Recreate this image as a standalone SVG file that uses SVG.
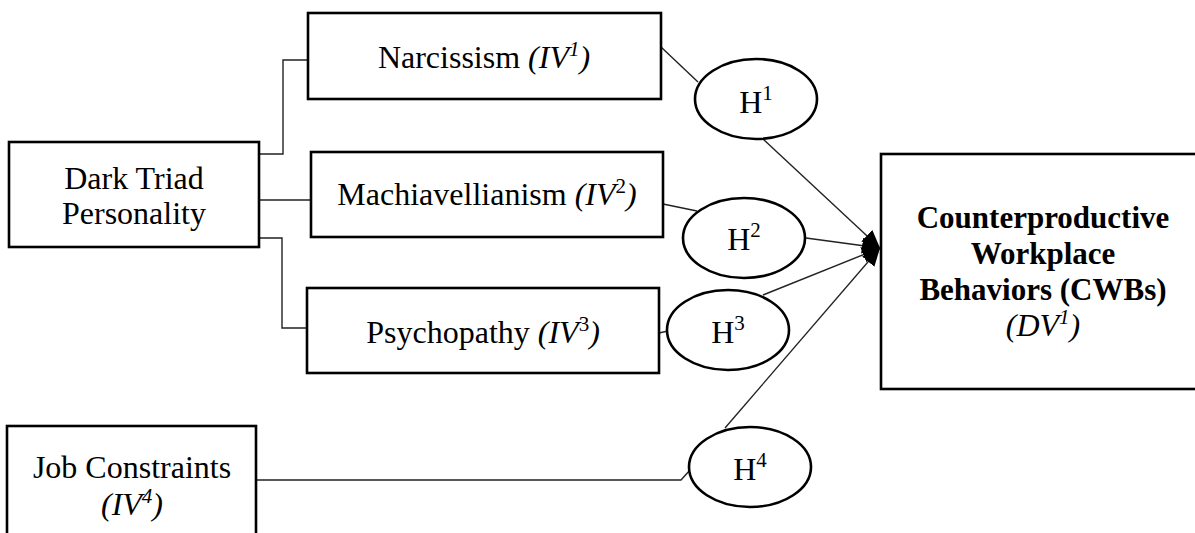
<svg xmlns="http://www.w3.org/2000/svg" width="1195" height="533" viewBox="0 0 1195 533">
<defs>
<style>
.box{fill:#fff;stroke:#000;stroke-width:2.6}
.ell{fill:#fff;stroke:#000;stroke-width:2.6}
.con{fill:none;stroke:#222;stroke-width:1.4}
.t{font-family:"Liberation Serif","Times New Roman",serif;font-size:32px;fill:#000;text-anchor:middle}
.b{font-weight:bold;font-size:31px}
.i{font-style:italic}
</style>
<marker id="arr" markerUnits="userSpaceOnUse" markerWidth="20" markerHeight="16" refX="18" refY="8" orient="auto">
<path d="M0,0 L18,8 L0,16 z" fill="#000"/>
</marker>
</defs>
<rect width="1195" height="533" fill="#fff"/>
<g id="connectors">
<polyline class="con" points="259,154 283,154 283,60 308,60"/>
<line class="con" x1="259" y1="200" x2="311" y2="200"/>
<polyline class="con" points="259,238 282,238 282,328 307,328"/>
<line class="con" x1="661" y1="47" x2="698" y2="82"/>
<line class="con" x1="663" y1="204" x2="697" y2="211"/>
<line class="con" x1="659" y1="333" x2="668" y2="331"/>
<polyline class="con" points="256,480 681,480 690,470"/>
<line class="con" x1="763" y1="139" x2="880" y2="248" marker-end="url(#arr)"/>
<line class="con" x1="806" y1="238" x2="880" y2="248" marker-end="url(#arr)"/>
<line class="con" x1="763" y1="295" x2="880" y2="248" marker-end="url(#arr)"/>
<line class="con" x1="725" y1="428" x2="880" y2="248" marker-end="url(#arr)"/>
</g>
<g id="dark-triad">
<rect class="box" x="9" y="142" width="250" height="105"/>
<text class="t" x="134" y="189">Dark Triad</text>
<text class="t" x="134" y="224">Personality</text>
</g>
<g id="narcissism">
<rect class="box" x="308" y="13" width="353" height="86"/>
<text class="t" x="484" y="68">Narcissism <tspan class="i">(IV<tspan font-size="21" dy="-12">1</tspan><tspan dy="12">)</tspan></tspan></text>
</g>
<g id="machiavellianism">
<rect class="box" x="311" y="152" width="352" height="85"/>
<text class="t" x="487" y="205">Machiavellianism <tspan class="i">(IV</tspan><tspan font-size="21" dy="-12">2</tspan><tspan class="i" dy="12">)</tspan></text>
</g>
<g id="psychopathy">
<rect class="box" x="307" y="288" width="352" height="85"/>
<text class="t" x="483" y="343">Psychopathy <tspan class="i">(IV</tspan><tspan font-size="21" dy="-12">3</tspan><tspan class="i" dy="12">)</tspan></text>
</g>
<g id="job-constraints">
<rect class="box" x="7" y="426" width="249" height="120"/>
<text class="t" x="132" y="478">Job Constraints</text>
<text class="t" x="132" y="515"><tspan class="i">(IV</tspan><tspan class="i" font-size="21" dy="-12">4</tspan><tspan class="i" dy="12">)</tspan></text>
</g>
<g id="h1">
<ellipse class="ell" cx="756" cy="99" rx="61" ry="40"/>
<text class="t" x="756" y="113">H<tspan font-size="21" dy="-13">1</tspan></text>
</g>
<g id="h2">
<ellipse class="ell" cx="744" cy="238" rx="61" ry="40"/>
<text class="t" x="744" y="250">H<tspan font-size="21" dy="-13">2</tspan></text>
</g>
<g id="h3">
<ellipse class="ell" cx="728" cy="330" rx="61" ry="40"/>
<text class="t" x="728" y="343">H<tspan font-size="21" dy="-13">3</tspan></text>
</g>
<g id="h4">
<ellipse class="ell" cx="750" cy="467" rx="61" ry="40"/>
<text class="t" x="750" y="480">H<tspan font-size="21" dy="-13">4</tspan></text>
</g>
<g id="cwb">
<rect class="box" x="881" y="154" width="330" height="235"/>
<text class="t b" x="1043" y="228">Counterproductive</text>
<text class="t b" x="1043" y="264">Workplace</text>
<text class="t b" x="1043" y="300">Behaviors (CWBs)</text>
<text class="t" x="1043" y="336"><tspan class="i">(DV</tspan><tspan class="i" font-size="21" dy="-12">1</tspan><tspan class="i" dy="12">)</tspan></text>
</g>
</svg>
